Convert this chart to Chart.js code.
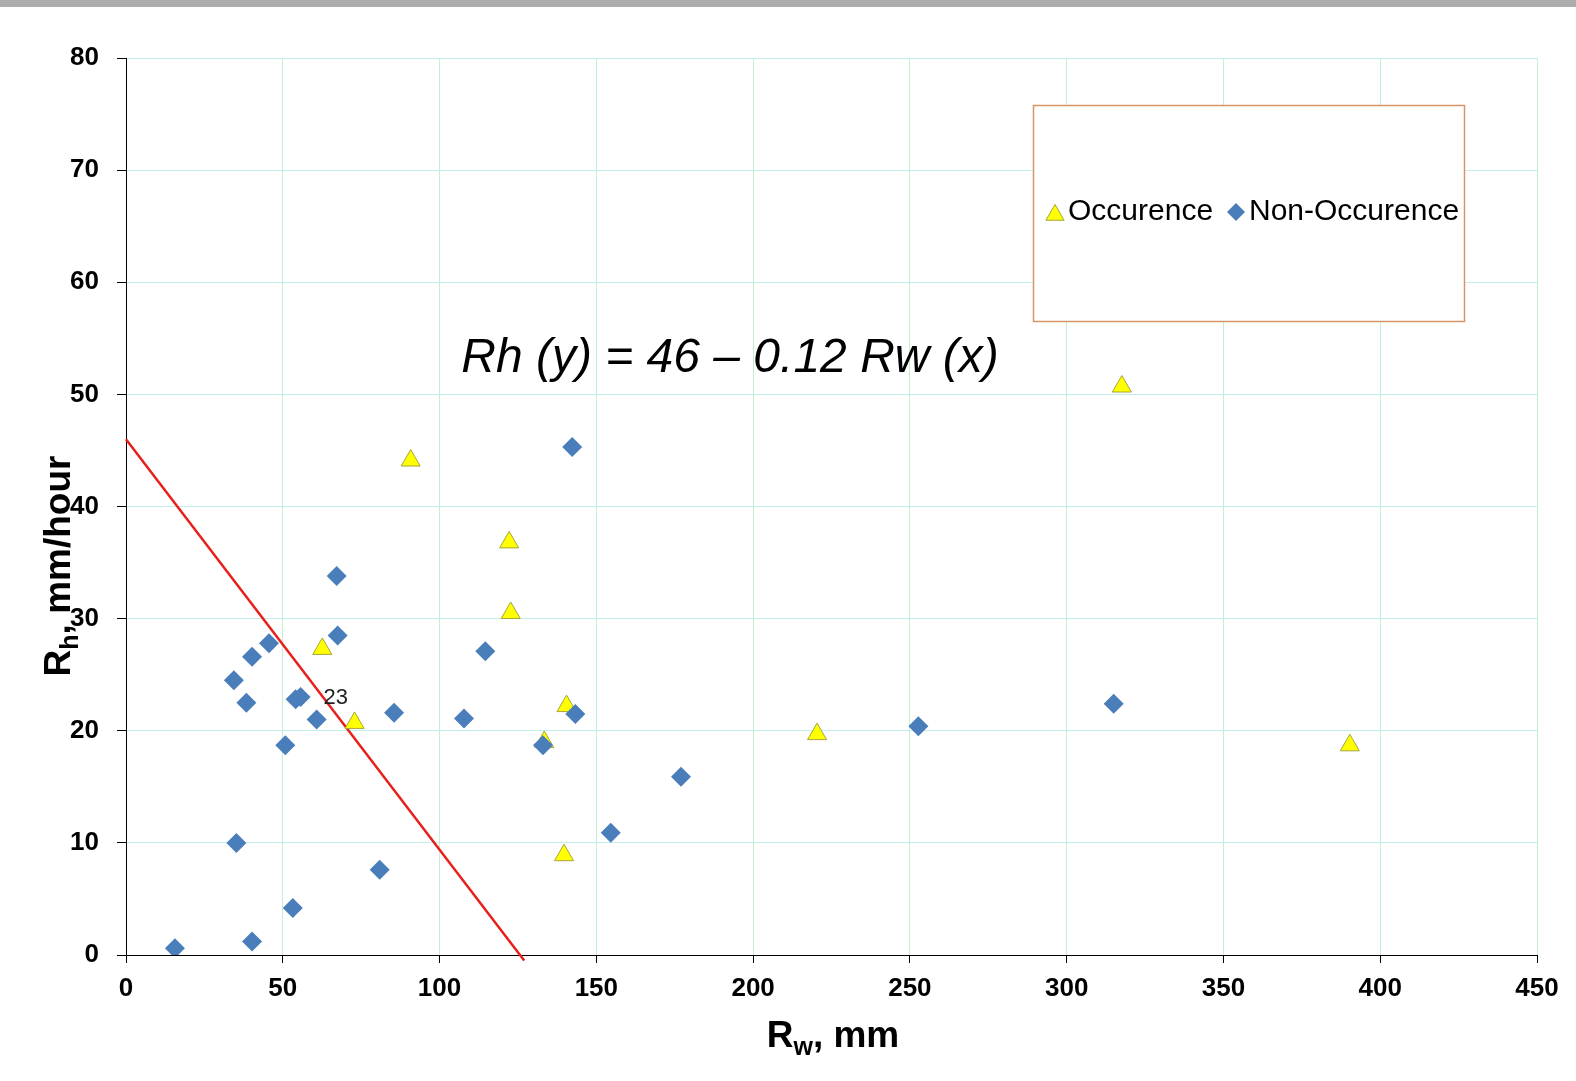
<!DOCTYPE html>
<html>
<head>
<meta charset="utf-8">
<script src="https://cdn.jsdelivr.net/npm/chart.js@4.4.0/dist/chart.umd.min.js"></script>
<style>
html, body { margin: 0; padding: 0; background: #fff; }
#wrap { position: relative; width: 1576px; height: 1081px; }
#topbar { position: absolute; left: 0; top: 0; width: 1576px; height: 7px; background: #adadad; }
</style>
</head>
<body>
<div id="wrap"><canvas id="chart"></canvas><div id="topbar"></div></div>
<script>
// Occurence (triangles)
const occX = [90.8, 122.2, 122.7, 62.6, 72.9, 140.5, 133.4, 139.7, 220.4, 317.6, 390.3];
const occY = [44.1, 36.8, 30.5, 27.3, 20.7, 22.2, 19.0, 8.9, 19.7, 50.7, 18.7];

// Non-Occurence (diamonds)
const nonX = [15.6, 40.2, 53.2, 35.2, 80.9, 50.8, 34.4, 38.4, 40.2, 45.6, 54.1, 55.7, 60.8,
  67.5, 67.2, 85.5, 107.8, 114.6, 142.3, 143.3, 133.0, 154.6, 177.0, 252.7, 315.0];
const nonY = [0.6, 1.2, 4.2, 10.0, 7.6, 18.7, 24.5, 22.5, 26.6, 27.8, 22.8, 23.0, 21.0,
  28.5, 33.8, 21.6, 21.1, 27.1, 45.3, 21.5, 18.7, 10.9, 15.9, 20.4, 22.4];

// threshold line as drawn
const lineX = [0, 127];
const lineY = [46, -0.5];

const xTickLabels = [0, 50, 100, 150, 200, 250, 300, 350, 400, 450];
const yTickLabels = [0, 10, 20, 30, 40, 50, 60, 70, 80];

const pointLabel = { x: 66.9, y: 22.9, text: "23" };
const equationText = "Rh (y) = 46 \u2013 0.12 Rw (x)";

const FONT = '"Liberation Sans", Arial, sans-serif';
const toPoints = (xs, ys) => xs.map((x, i) => ({ x: x, y: ys[i] }));

function drawTriangle(ctx, x, y, r) {
  ctx.beginPath();
  ctx.moveTo(x, y - r);
  ctx.lineTo(x + r * Math.sin(2 * Math.PI / 3), y + r / 2);
  ctx.lineTo(x - r * Math.sin(2 * Math.PI / 3), y + r / 2);
  ctx.closePath();
  ctx.fillStyle = "#ffff00";
  ctx.strokeStyle = "#a5a53a";
  ctx.lineWidth = 1;
  ctx.fill();
  ctx.stroke();
}

function drawDiamond(ctx, x, y, r) {
  ctx.beginPath();
  ctx.moveTo(x, y - r);
  ctx.lineTo(x + r, y);
  ctx.lineTo(x, y + r);
  ctx.lineTo(x - r, y);
  ctx.closePath();
  ctx.fillStyle = "#4a7ebb";
  ctx.fill();
}

// draws a title like R<sub>w</sub>, mm centred on (0,0)
function drawSubTitle(ctx, main, sub, rest) {
  const big = "bold 37px " + FONT;
  const small = "bold 25px " + FONT;
  ctx.font = big;
  const w1 = ctx.measureText(main).width;
  const w3 = ctx.measureText(rest).width;
  ctx.font = small;
  const w2 = ctx.measureText(sub).width;
  let x = -(w1 + w2 + w3) / 2;
  ctx.textAlign = "left";
  ctx.textBaseline = "alphabetic";
  ctx.font = big;
  ctx.fillText(main, x, 0);
  x += w1;
  ctx.font = small;
  ctx.fillText(sub, x, 8);
  x += w2;
  ctx.font = big;
  ctx.fillText(rest, x, 0);
}

const extras = {
  id: "extras",
  afterDraw(chart) {
    const ctx = chart.ctx;
    const xs = chart.scales.x;
    const ys = chart.scales.y;
    ctx.save();

    // data label next to the cluster
    ctx.font = "22px " + FONT;
    ctx.fillStyle = "#222";
    ctx.textAlign = "center";
    ctx.textBaseline = "middle";
    ctx.fillText(pointLabel.text, xs.getPixelForValue(pointLabel.x), ys.getPixelForValue(pointLabel.y));

    // equation
    ctx.font = "italic 48px " + FONT;
    ctx.fillStyle = "#000";
    ctx.textBaseline = "alphabetic";
    ctx.fillText(equationText, 730, 372);

    // legend box
    ctx.fillStyle = "#fff";
    ctx.fillRect(1033, 105, 431, 216);
    ctx.strokeStyle = "#d9956a";
    ctx.lineWidth = 1.5;
    ctx.strokeRect(1033.5, 105.5, 431, 216);
    drawTriangle(ctx, 1055, 215, 10.5);
    drawDiamond(ctx, 1236, 212, 9);
    ctx.font = "30px " + FONT;
    ctx.fillStyle = "#000";
    ctx.textAlign = "left";
    ctx.textBaseline = "middle";
    ctx.fillText("Occurence", 1068, 212);
    ctx.fillText("Non-Occurence", 1249, 212);

    // axis titles
    ctx.fillStyle = "#000";
    ctx.save();
    ctx.translate(833, 1047);
    drawSubTitle(ctx, "R", "w", ", mm");
    ctx.restore();
    ctx.save();
    ctx.translate(70, 566);
    ctx.rotate(-Math.PI / 2);
    drawSubTitle(ctx, "R", "h", ", mm/hour");
    ctx.restore();

    ctx.restore();
  }
};

const tickFont = { family: FONT, size: 26, weight: "bold" };

new Chart(document.getElementById("chart"), {
  type: "scatter",
  data: {
    datasets: [
      {
        label: "Non-Occurence",
        data: toPoints(nonX, nonY),
        pointStyle: "rectRot",
        pointRadius: 10,
        backgroundColor: "#4a7ebb",
        borderColor: "#4a7ebb",
        borderWidth: 0,
      },
      {
        label: "Occurence",
        data: toPoints(occX, occY),
        pointStyle: "triangle",
        pointRadius: 11,
        backgroundColor: "#ffff00",
        borderColor: "#a5a53a",
        borderWidth: 1,
      },
      {
        label: "line",
        data: toPoints(lineX, lineY),
        showLine: true,
        pointRadius: 0,
        borderColor: "#e8201c",
        borderWidth: 2.5,
        clip: false,
      },
    ],
  },
  options: {
    responsive: true,
    maintainAspectRatio: false,
    animation: false,
    layout: { padding: { top: 58, right: 39, left: 0, bottom: 0 } },
    plugins: {
      legend: { display: false },
      tooltip: { enabled: false },
    },
    scales: {
      x: {
        type: "linear",
        min: 0,
        max: 450,
        afterBuildTicks: (scale) => { scale.ticks = xTickLabels.map((v) => ({ value: v })); },
        afterFit: (scale) => { scale.height = 126; },
        grid: { color: "#c2f2cd", lineWidth: 1, tickColor: "#000", tickLength: 8 },
        border: { display: true, color: "#000", width: 1 },
        ticks: { font: tickFont, color: "#000", padding: 10, maxRotation: 0 },
      },
      y: {
        type: "linear",
        min: 0,
        max: 80,
        afterBuildTicks: (scale) => { scale.ticks = yTickLabels.map((v) => ({ value: v })); },
        afterFit: (scale) => { scale.width = 126; },
        grid: { color: "#c0eded", lineWidth: 1, tickColor: "#000", tickLength: 9 },
        border: { display: true, color: "#000", width: 1 },
        ticks: { font: tickFont, color: "#000", padding: 18 },
      },
    },
  },
  plugins: [extras],
});
</script>
</body>
</html>
